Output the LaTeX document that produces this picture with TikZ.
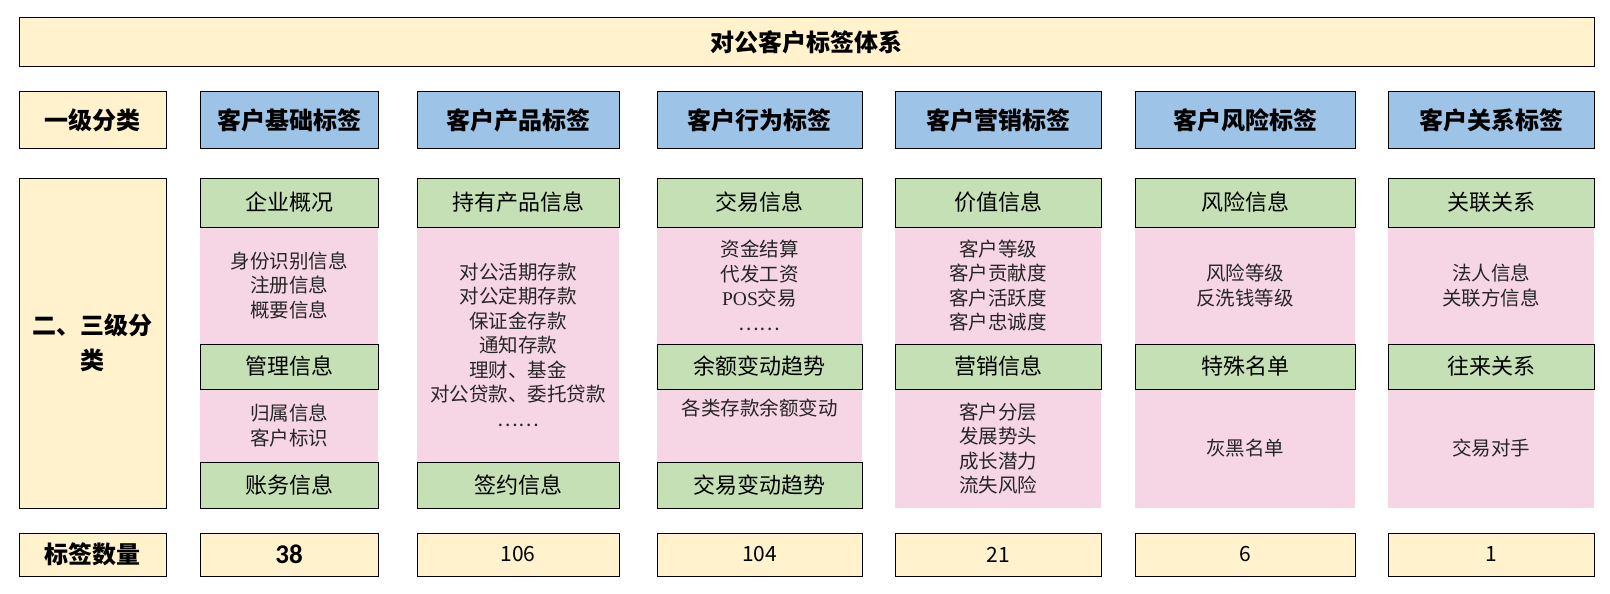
\documentclass[tikz,border=0pt]{standalone}
\usepackage{fontspec}
\setmainfont{Noto Sans CJK SC}
\newfontfamily\latinserif{Liberation Serif}
\newfontfamily\calibrifont{Carlito}

\definecolor{cream}{HTML}{FFF2CC}
\definecolor{skyblue}{HTML}{9DC3E6}
\definecolor{leafgreen}{HTML}{C5E0B4}
\definecolor{rosepink}{HTML}{F6D5E5}

\tikzset{
  boxsize/.style 2 args={minimum width=#1, minimum height=#2},
  cell/.style={draw=black, line width=1pt, inner sep=0pt, align=center},
  headcell/.style={cell, fill=cream, font=\fontsize{24}{35}\selectfont\bfseries},
  tagcell/.style={cell, fill=skyblue, font=\fontsize{24}{30}\selectfont\bfseries},
  subcell/.style={cell, fill=leafgreen, font=\fontsize{22}{26}\selectfont},
  itemcell/.style={inner sep=0pt, fill=rosepink, align=center, text=black!85,
    font=\fontsize{19.5}{24.5}\selectfont},
  numcell/.style={cell, fill=cream, font=\fontsize{21}{25}\selectfont},
}

\begin{document}
\begin{tikzpicture}[x=1pt,y=-1pt]
\useasboundingbox (0,0) rectangle (1610,594);

% title
\node[headcell, boxsize={1575}{49}] (title) at (806.5,42.5) {对公客户标签体系};

% left labels
\node[headcell, boxsize={147}{56}] (lvlone) at (92.5,120) {一级分类};
\node[headcell, boxsize={147}{330}] (lvltwo) at (92.5,343) {二、三级分\\类};
\node[headcell, boxsize={147}{43}] (count) at (92.5,554.5) {标签数量};

% first level
\node[tagcell, boxsize={178}{56}] (basic) at (289,120) {客户基础标签};
\node[tagcell, boxsize={202}{56}] (product) at (518,120) {客户产品标签};
\node[tagcell, boxsize={205}{56}] (behave) at (759.5,120) {客户行为标签};
\node[tagcell, boxsize={206}{56}] (market) at (998,120) {客户营销标签};
\node[tagcell, boxsize={220}{56}] (risk) at (1245,120) {客户风险标签};
\node[tagcell, boxsize={206}{56}] (relation) at (1491,120) {客户关系标签};

% third level items
\node[itemcell, boxsize={178}{117}] (basicA) at (289,285.5) {身份识别信息\\注册信息\\概要信息};
\node[itemcell, boxsize={178}{73}] (basicB) at (289,425.5) {归属信息\\客户标识};

\node[itemcell, boxsize={202}{235}] (productA) at (518,344.5)
  {对公活期存款\\对公定期存款\\保证金存款\\通知存款\\理财、基金\\对公贷款、委托贷款\\……};

\node[itemcell, boxsize={205}{117}] (behaveA) at (759.5,285.5) {资金结算\\代发工资\\{\latinserif POS}交易\\……};
\node[itemcell, boxsize={205}{73}, text depth=36pt] (behaveB) at (759.5,425.5) {各类存款余额变动};

\node[itemcell, boxsize={206}{117}] (marketA) at (998,285.5) {客户等级\\客户贡献度\\客户活跃度\\客户忠诚度};
\node[itemcell, boxsize={206}{119}] (marketB) at (998,448.5) {客户分层\\发展势头\\成长潜力\\流失风险};

\node[itemcell, boxsize={220}{117}] (riskA) at (1245,285.5) {风险等级\\反洗钱等级};
\node[itemcell, boxsize={220}{119}] (riskB) at (1245,448.5) {灰黑名单};

\node[itemcell, boxsize={206}{117}] (relationA) at (1491,285.5) {法人信息\\关联方信息};
\node[itemcell, boxsize={206}{119}] (relationB) at (1491,448.5) {交易对手};

% second level
\node[subcell, boxsize={178}{49}] (basic1) at (289,202.5) {企业概况};
\node[subcell, boxsize={178}{45}] (basic2) at (289,366.5) {管理信息};
\node[subcell, boxsize={178}{46}] (basic3) at (289,485) {账务信息};

\node[subcell, boxsize={202}{49}] (product1) at (518,202.5) {持有产品信息};
\node[subcell, boxsize={202}{46}] (product2) at (518,485) {签约信息};

\node[subcell, boxsize={205}{49}] (behave1) at (759.5,202.5) {交易信息};
\node[subcell, boxsize={205}{45}] (behave2) at (759.5,366.5) {余额变动趋势};
\node[subcell, boxsize={205}{46}] (behave3) at (759.5,485) {交易变动趋势};

\node[subcell, boxsize={206}{49}] (market1) at (998,202.5) {价值信息};
\node[subcell, boxsize={206}{45}] (market2) at (998,366.5) {营销信息};

\node[subcell, boxsize={220}{49}] (risk1) at (1245,202.5) {风险信息};
\node[subcell, boxsize={220}{45}] (risk2) at (1245,366.5) {特殊名单};

\node[subcell, boxsize={206}{49}] (relation1) at (1491,202.5) {关联关系};
\node[subcell, boxsize={206}{45}] (relation2) at (1491,366.5) {往来关系};

% counts
\node[numcell, boxsize={178}{43}, font=\calibrifont\bfseries\fontsize{27}{30}\selectfont] (basicN) at (289,554.5) {38};
\node[numcell, boxsize={202}{43}] (productN) at (518,554.5) {106};
\node[numcell, boxsize={205}{43}] (behaveN) at (759.5,554.5) {104};
\node[numcell, boxsize={206}{43}] (marketN) at (998,554.5) {21};
\node[numcell, boxsize={220}{43}] (riskN) at (1245,554.5) {6};
\node[numcell, boxsize={206}{43}] (relationN) at (1491,554.5) {1};
\end{tikzpicture}
\end{document}
